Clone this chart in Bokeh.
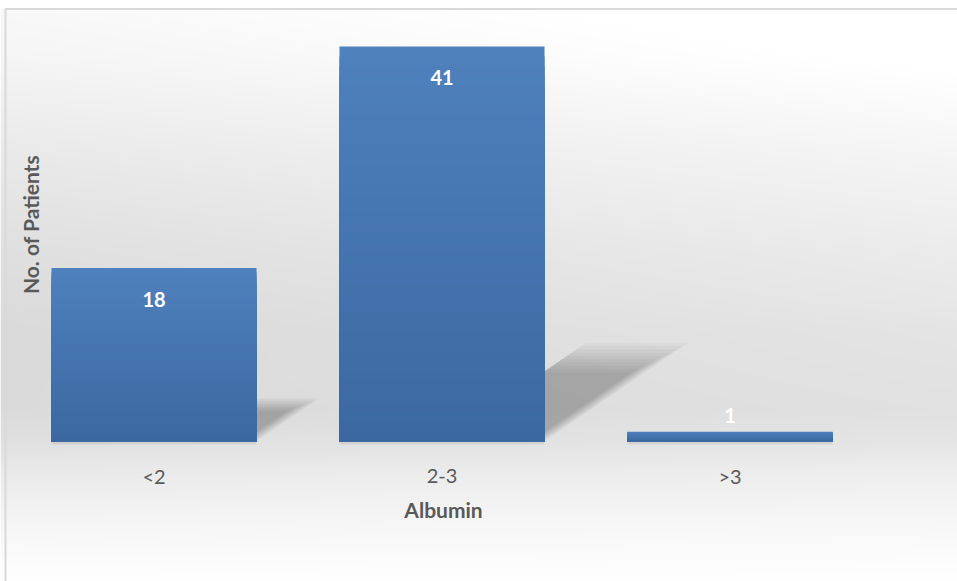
import numpy as np
from bokeh.plotting import figure
from bokeh.models import Range1d
from bokeh.core.properties import value
from bokeh.embed import file_html
from bokeh.resources import INLINE

# ---- data -------------------------------------------------------------
categories = ["<2", "2-3", ">3"]
patients = [18, 41, 1]
x_title = "Albumin"
y_title = "No. of Patients"

# ---- layout (pixels) ----------------------------------------------------
W, H = 957, 581
PLOT_LEFT, PLOT_RIGHT = 9.5, 873.5   # horizontal extent of the category band
BASE_Y = 441.0                        # pixel row of the value 0
TOP_Y = 7.5                           # pixel row of the axis maximum
AXIS_MAX = 45
BAR_WIDTH = 0.712                     # fraction of a category slot

XS = (PLOT_RIGHT - PLOT_LEFT) / len(categories)   # px per category
YS = (BASE_Y - TOP_Y) / AXIS_MAX                  # px per patient


def px_x(px):
    return (px - PLOT_LEFT) / XS


def px_y(py):
    return (BASE_Y - py) / YS


FONT = value("Lato")
TEXT_GREY = "#595959"

p = figure(
    width=W, height=H,
    x_range=Range1d(px_x(0), px_x(W)),
    y_range=Range1d(px_y(H), px_y(0)),
    x_axis_location=None, y_axis_location=None,
    min_border=0, outline_line_color=None,
    output_backend="svg", toolbar_location=None,
)
p.grid.visible = False
p.background_fill_color = "white"
p.border_fill_color = "white"

# ---- soft grey chart background -----------------------------------------
stops_py = [0, 8, 60, 150, 250, 330, 410, 441, 470, 520, 581]
stops_v = [255, 253, 249, 238, 228, 222, 221, 226, 235, 246, 255]
cols = 479
py_rows = np.arange(H)[::-1] + 0.5          # image row 0 is the bottom
px_cols = (np.arange(cols) + 0.5) * W / cols
vert = np.interp(py_rows, stops_py, stops_v)
weight = np.interp(py_rows, [0, 8, 300, 441, 581], [0, 1, 1, 0.4, 0])
horiz = 12 * (px_cols / W - 0.35)
grey = np.clip(vert[:, None] + weight[:, None] * horiz[None, :], 0, 255)
grey[py_rows < 8, :] = 255
g = grey.astype(np.uint32)
img = (255 << 24) | (g << 16) | (g << 8) | g
p.image_rgba(image=[img], x=px_x(0), y=px_y(H), dw=px_x(W) - px_x(0), dh=px_y(0) - px_y(H))

# chart area border (top and left edges)
p.line(x=[px_x(W), px_x(5), px_x(5)], y=[px_y(8.5), px_y(8.5), px_y(H)],
       line_color="#D9D9D9", line_width=2)

centers = [i + 0.5 for i in range(len(categories))]
half = BAR_WIDTH / 2

# ---- perspective shadows behind the bars ---------------------------------
LAYERS = 10
for xc, v in zip(centers, patients):
    xl, xr = xc - half, xc + half
    dh = 0.25 * v                       # shadow height (patients)
    dx = 0.0122 * v                     # shadow lean (categories)
    xs_list, ys_list = [], []
    for i in range(LAYERS):
        s = 1.0 - 0.3 * i / (LAYERS - 1)
        inset = i * 1.6 / XS
        xs_list.append([xc, xr - inset, xr - inset + dx * s, xc + dx * s])
        ys_list.append([0, 0, dh * s, dh * s])
    p.patches(xs=xs_list, ys=ys_list, fill_color="black", fill_alpha=0.027, line_color=None)

# faint contact shadow just under each bar
p.quad(left=[c - half for c in centers], right=[c + half for c in centers],
       bottom=px_y(BASE_Y + 3), top=0, fill_color="black", fill_alpha=0.07, line_color=None)

# ---- bars with a vertical blue gradient ----------------------------------
top_rgb = np.array([79, 129, 189])
bot_rgb = np.array([59, 104, 160])
N = 40
for xc, v in zip(centers, patients):
    lefts, rights, tops, colors = [], [], [], []
    for k in range(N, 0, -1):
        t = (k - 0.5) / N
        c = (bot_rgb + (top_rgb - bot_rgb) * t).round().astype(int)
        lefts.append(xc - half)
        rights.append(xc + half)
        tops.append(v * k / N)
        colors.append("#%02x%02x%02x" % tuple(c))
    p.quad(left=lefts, right=rights, bottom=0, top=tops,
           fill_color=colors, line_color=None)

# ---- value labels ---------------------------------------------------------
label_y = []
for v in patients:
    if v * YS > 50:
        label_y.append(v - 31 / YS)      # inside the bar, near its top
    else:
        label_y.append(v + 16 / YS)      # just above a short bar
p.text(x=centers, y=label_y, text=[str(v) for v in patients],
       text_font=FONT, text_font_style="bold", text_font_size="20px",
       text_color="white", text_align="center", text_baseline="middle")

# ---- category labels and axis titles -------------------------------------
p.text(x=centers, y=[px_y(BASE_Y + 34)] * len(categories), text=categories,
       text_font=FONT, text_font_size="20px", text_color=TEXT_GREY,
       text_align="center", text_baseline="middle")
p.text(x=[px_x(443)], y=[px_y(509)], text=[x_title],
       text_font=FONT, text_font_style="bold", text_font_size="21px",
       text_color=TEXT_GREY, text_align="center", text_baseline="middle")
p.text(x=[px_x(30)], y=[px_y(224)], text=[y_title], angle=np.pi / 2,
       text_font=FONT, text_font_style="bold", text_font_size="21px",
       text_color=TEXT_GREY, text_align="center", text_baseline="middle")

open("out.html", "w").write(file_html(p, INLINE))
